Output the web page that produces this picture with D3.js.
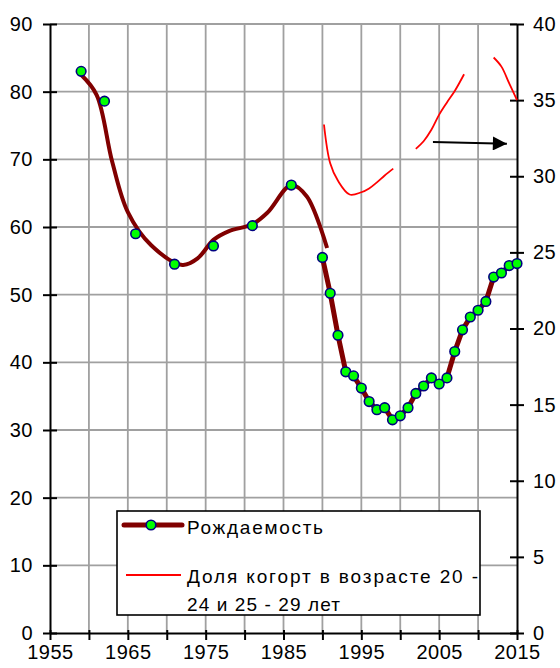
<!DOCTYPE html>
<html>
<head>
<meta charset="utf-8">
<script src="https://cdn.jsdelivr.net/npm/d3@7"></script>
<style>
	body { margin: 0; background: #fff; }
	svg { font-family: "Liberation Sans", Arial, sans-serif; }
</style>
</head>
<body>
<div id="chart"></div>
<script>
// birth counts (left axis), markers; line drawn from 1990 on
var birthYears = [1959, 1962, 1966, 1971, 1976, 1981, 1986,
	1990, 1991, 1992, 1993, 1994, 1995, 1996, 1997, 1998, 1999,
	2000, 2001, 2002, 2003, 2004, 2005, 2006, 2007, 2008, 2009,
	2010, 2011, 2012, 2013, 2014, 2015];
var birthValues = [83.0, 78.6, 59.0, 54.5, 57.2, 60.2, 66.2,
	55.5, 50.2, 44.0, 38.6, 38.0, 36.2, 34.2, 33.0, 33.3, 31.5,
	32.1, 33.3, 35.4, 36.5, 37.7, 36.8, 37.7, 41.6, 44.8, 46.7,
	47.7, 49.0, 52.6, 53.2, 54.3, 54.6];
var birthLineFrom = 1990;

// smoothed curve for the early years (left axis)
var trendYears = [1959, 1961, 1963, 1965, 1968, 1972, 1974, 1976, 1978, 1981, 1983, 1986, 1988, 1990.6];
var trendValues = [82.5, 79.5, 69.6, 62.2, 57.3, 54.4, 55.4, 58.1, 59.4, 60.4, 62.2, 66.2, 64.5, 56.9];

// share of cohorts aged 20-24 and 25-29 (right axis), null = gap
var cohortYears = [1990.2, 1991, 1992, 1993.5, 1995, 1996, 1997, 1998, 1999.1, 2000,
	2002, 2003, 2004, 2005, 2006, 2007, 2008.2, 2010,
	2012, 2013, 2014, 2015];
var cohortValues = [33.4, 30.85, 29.7, 28.8, 28.95, 29.2, 29.6, 30.05, 30.5, null,
	31.8, 32.3, 33.05, 34.05, 34.85, 35.6, 36.7, null,
	37.8, 37.2, 36.1, 35.0];

var xTicks = [1955, 1965, 1975, 1985, 1995, 2005, 2015];
var leftTicks = [0, 10, 20, 30, 40, 50, 60, 70, 80, 90];
var rightTicks = [0, 5, 10, 15, 20, 25, 30, 35, 40];
var legendLabels = ["Рождаемость", "Доля когорт в возрасте 20 -", "24 и 25 - 29 лет"];

var W = 560, H = 668;
var margin = {top: 24, right: 43, bottom: 35, left: 50};
var width = W - margin.left - margin.right;
var height = H - margin.top - margin.bottom;

var x = d3.scaleLinear().domain([1955, 2015]).range([0, width]);
var yL = d3.scaleLinear().domain([0, 90]).range([height, 0]);
var yR = d3.scaleLinear().domain([0, 40]).range([height, 0]);

var svg = d3.select("#chart").append("svg")
	.attr("width", W).attr("height", H)
	.append("g").attr("transform", "translate(" + margin.left + "," + margin.top + ")");

// grid
var gridColor = "#a0a0a0";
svg.append("g").selectAll("line")
	.data(d3.range(1960, 2015, 5))
	.enter().append("line")
	.attr("x1", function(d){ return x(d); }).attr("x2", function(d){ return x(d); })
	.attr("y1", 0).attr("y2", height)
	.attr("stroke", gridColor).attr("stroke-width", 1.8);
svg.append("g").selectAll("line")
	.data(leftTicks.slice(1))
	.enter().append("line")
	.attr("x1", 0).attr("x2", width)
	.attr("y1", function(d){ return yL(d); }).attr("y2", function(d){ return yL(d); })
	.attr("stroke", gridColor).attr("stroke-width", 1.8);

// axes
function styleAxis(g, cross){
	g.select(".domain").attr("stroke", "#000").attr("stroke-width", 2);
	g.selectAll(".tick line").attr("stroke", "#000").attr("stroke-width", 2);
	g.selectAll(".tick text").attr("fill", "#000").attr("font-size", 20).attr("letter-spacing", 0.5);
	cross(g.selectAll(".tick line"));
}

svg.append("g")
	.attr("transform", "translate(0," + height + ")")
	.call(d3.axisBottom(x).tickValues(d3.range(1955, 2016, 5)).tickSize(7).tickSizeOuter(0).tickPadding(5)
		.tickFormat(function(d){ return xTicks.indexOf(d) >= 0 ? d : ""; }))
	.call(function(g){ styleAxis(g, function(l){ l.attr("y1", -3); }); });

svg.append("g")
	.call(d3.axisLeft(yL).tickValues(leftTicks).tickSize(7).tickSizeOuter(0).tickPadding(10))
	.call(function(g){ styleAxis(g, function(l){ l.attr("x1", 7); }); });

svg.append("g")
	.attr("transform", "translate(" + width + ",0)")
	.call(d3.axisRight(yR).tickValues(rightTicks).tickSize(7).tickSizeOuter(0).tickPadding(9))
	.call(function(g){ styleAxis(g, function(l){ l.attr("x1", -7); }); });

// series
var brown = "#800000";
var trend = trendYears.map(function(d, i){ return [d, trendValues[i]]; });
svg.append("path")
	.datum(trend)
	.attr("fill", "none").attr("stroke", brown).attr("stroke-width", 4)
	.attr("d", d3.line().x(function(d){ return x(d[0]); }).y(function(d){ return yL(d[1]); })
		.curve(d3.curveCatmullRom.alpha(0.5)));

var cohort = cohortYears.map(function(d, i){ return [d, cohortValues[i]]; });
svg.append("path")
	.datum(cohort)
	.attr("fill", "none").attr("stroke", "#ff0000").attr("stroke-width", 1.8)
	.attr("d", d3.line().defined(function(d){ return d[1] !== null; })
		.x(function(d){ return x(d[0]); }).y(function(d){ return yR(d[1]); })
		.curve(d3.curveCatmullRom.alpha(0.5)));

var births = birthYears.map(function(d, i){ return [d, birthValues[i]]; });
svg.append("path")
	.datum(births.filter(function(d){ return d[0] >= birthLineFrom; }))
	.attr("fill", "none").attr("stroke", brown).attr("stroke-width", 5)
	.attr("stroke-linejoin", "round")
	.attr("d", d3.line().x(function(d){ return x(d[0]); }).y(function(d){ return yL(d[1]); }));

svg.append("g").selectAll("circle")
	.data(births)
	.enter().append("circle")
	.attr("cx", function(d){ return x(d[0]); })
	.attr("cy", function(d){ return yL(d[1]); })
	.attr("r", 4.8)
	.attr("fill", "#00ff00").attr("stroke", "#000080").attr("stroke-width", 1.6);

// arrow pointing to the right axis
svg.append("defs").append("marker")
	.attr("id", "arrowhead")
	.attr("viewBox", "0 0 10 10").attr("refX", 10).attr("refY", 5)
	.attr("markerUnits", "userSpaceOnUse")
	.attr("markerWidth", 15).attr("markerHeight", 14)
	.attr("orient", "auto")
	.append("path").attr("d", "M0,0L10,5L0,10Z").attr("fill", "#000");
svg.append("line")
	.attr("x1", x(2004.2)).attr("y1", yR(32.25))
	.attr("x2", x(2013.7)).attr("y2", yR(32.13))
	.attr("stroke", "#000").attr("stroke-width", 2)
	.attr("marker-end", "url(#arrowhead)");

// legend
var lg = svg.append("g").attr("transform", "translate(" + (117 - margin.left) + "," + (511 - margin.top) + ")");
lg.append("rect")
	.attr("width", 363).attr("height", 104)
	.attr("fill", "#fff").attr("stroke", "#000").attr("stroke-width", 1.6);
lg.append("line")
	.attr("x1", 7).attr("x2", 65).attr("y1", 14).attr("y2", 14)
	.attr("stroke", brown).attr("stroke-width", 5).attr("stroke-linecap", "round");
lg.append("circle")
	.attr("cx", 34).attr("cy", 14).attr("r", 4.8)
	.attr("fill", "#00ff00").attr("stroke", "#000080").attr("stroke-width", 1.6);
lg.append("line")
	.attr("x1", 9).attr("x2", 64).attr("y1", 64).attr("y2", 64)
	.attr("stroke", "#ff0000").attr("stroke-width", 1.8);
lg.selectAll("text")
	.data(legendLabels)
	.enter().append("text")
	.attr("x", 70)
	.attr("y", function(d, i){ return [23, 72, 100][i]; })
	.attr("font-size", 19)
	.attr("textLength", function(d, i){ return [136, 291, 153][i]; })
	.attr("lengthAdjust", "spacing")
	.attr("fill", "#000")
	.text(function(d){ return d; });
</script>
</body>
</html>
